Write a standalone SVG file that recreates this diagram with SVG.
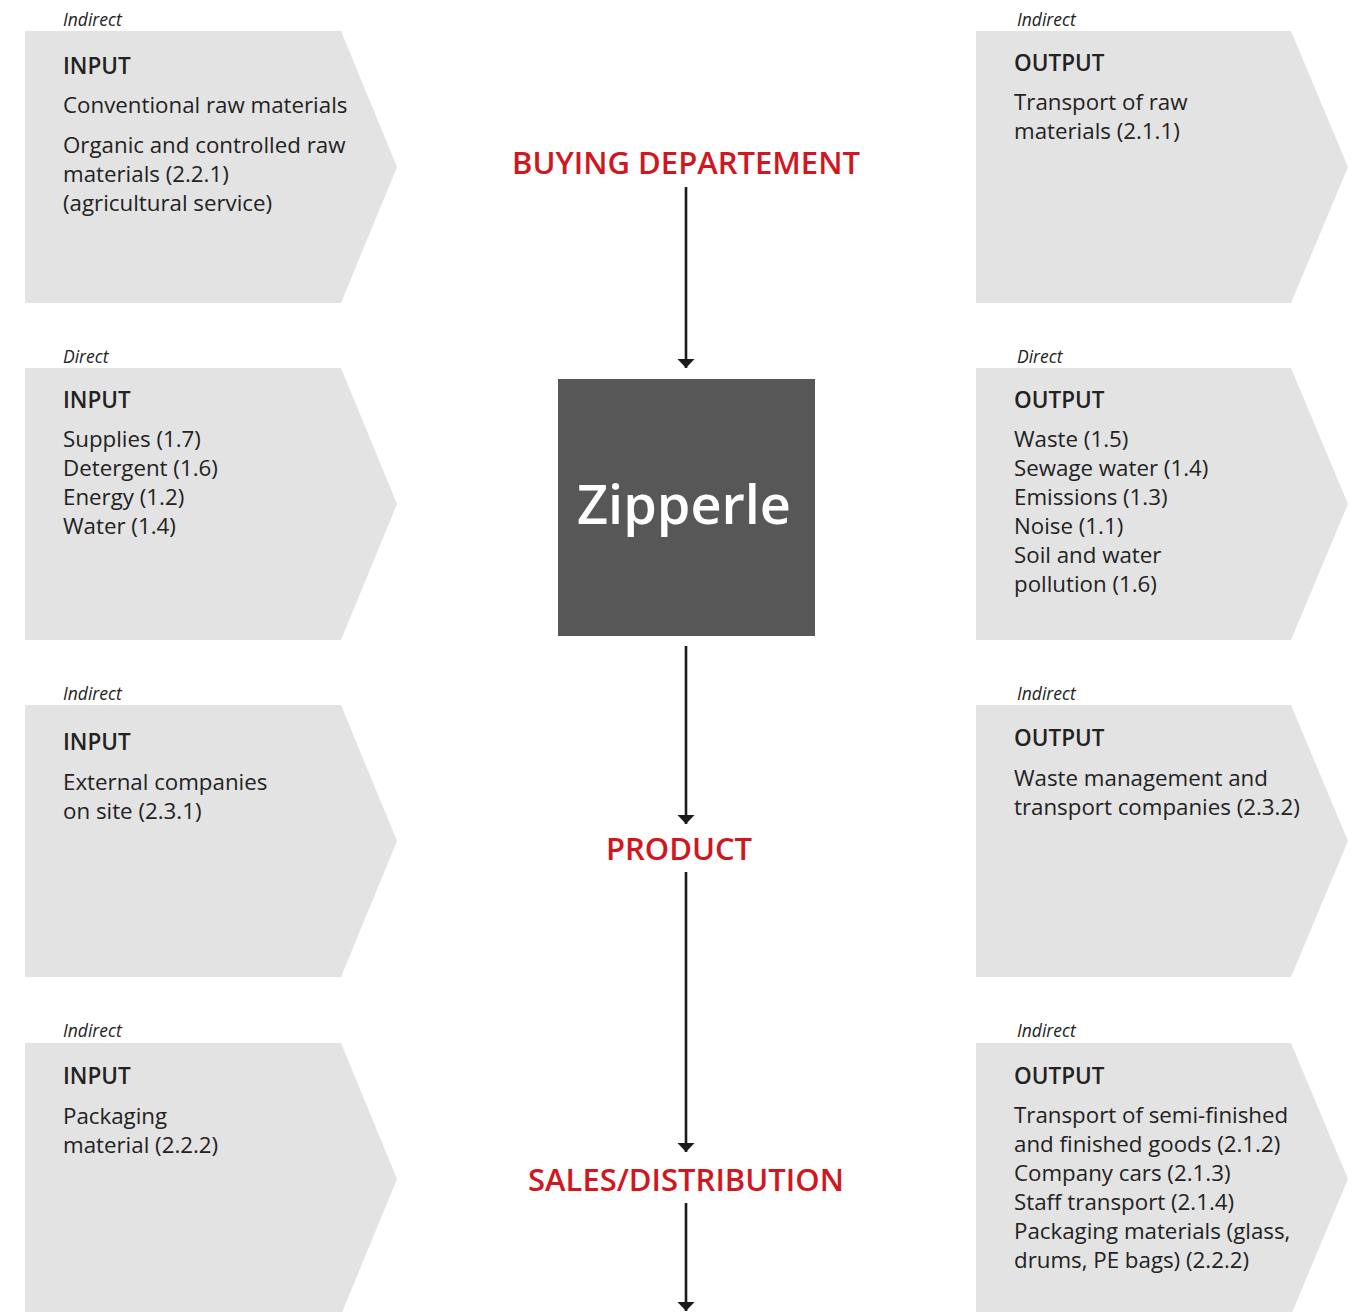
<svg xmlns="http://www.w3.org/2000/svg" width="1363" height="1312" viewBox="0 0 1363 1312">
<style>
.chev{fill:#e3e3e3}
.lbl{font-family:"Open Sans","Noto Sans",sans-serif;font-style:italic;font-size:17.5px;fill:#222}
.hd{font-family:"Open Sans","Noto Sans",sans-serif;font-weight:600;font-size:22.5px;fill:#222}
.tx{font-family:"Open Sans","Noto Sans",sans-serif;font-size:22.3px;fill:#222}
.red{font-family:"Open Sans","Noto Sans",sans-serif;font-weight:600;font-size:31px;fill:#d2161e;text-anchor:middle}
.conn{stroke:#1a1a1a;stroke-width:2.6;fill:none;marker-end:url(#ah)}
</style>
<defs>
<marker id="ah" markerUnits="userSpaceOnUse" markerWidth="10" markerHeight="18" refX="9" refY="8.5" orient="auto" viewBox="0 0 10 17">
<path d="M0,0 L9,8.5 L0,17 Z" fill="#1a1a1a"/>
</marker>
</defs>
<rect width="1363" height="1312" fill="#ffffff"/>

<g id="in1">
<text class="lbl" x="63" y="26">Indirect</text>
<polygon class="chev" points="25,31 341,31 397,167 341,303 25,303"/>
<text class="hd" x="63" y="74">INPUT</text>
<text class="tx" x="63" y="113">Conventional raw materials</text>
<text class="tx" x="63" y="153">Organic and controlled raw</text>
<text class="tx" x="63" y="182">materials (2.2.1)</text>
<text class="tx" x="63" y="211">(agricultural service)</text>
</g>

<g id="out1">
<text class="lbl" x="1017" y="26">Indirect</text>
<polygon class="chev" points="976,31 1291,31 1348,167 1291,303 976,303"/>
<text class="hd" x="1014" y="71">OUTPUT</text>
<text class="tx" x="1014" y="110">Transport of raw</text>
<text class="tx" x="1014" y="139">materials (2.1.1)</text>
</g>

<g id="in2">
<text class="lbl" x="63" y="363">Direct</text>
<polygon class="chev" points="25,368 341,368 397,504 341,640 25,640"/>
<text class="hd" x="63" y="408">INPUT</text>
<text class="tx" x="63" y="447">Supplies (1.7)</text>
<text class="tx" x="63" y="476">Detergent (1.6)</text>
<text class="tx" x="63" y="505">Energy (1.2)</text>
<text class="tx" x="63" y="534">Water (1.4)</text>
</g>

<g id="out2">
<text class="lbl" x="1017" y="363">Direct</text>
<polygon class="chev" points="976,368 1291,368 1348,504 1291,640 976,640"/>
<text class="hd" x="1014" y="408">OUTPUT</text>
<text class="tx" x="1014" y="447">Waste (1.5)</text>
<text class="tx" x="1014" y="476">Sewage water (1.4)</text>
<text class="tx" x="1014" y="505">Emissions (1.3)</text>
<text class="tx" x="1014" y="534">Noise (1.1)</text>
<text class="tx" x="1014" y="563">Soil and water</text>
<text class="tx" x="1014" y="592">pollution (1.6)</text>
</g>

<g id="in3">
<text class="lbl" x="63" y="700">Indirect</text>
<polygon class="chev" points="25,705 341,705 397,841 341,977 25,977"/>
<text class="hd" x="63" y="750">INPUT</text>
<text class="tx" x="63" y="790">External companies</text>
<text class="tx" x="63" y="819">on site (2.3.1)</text>
</g>

<g id="out3">
<text class="lbl" x="1017" y="700">Indirect</text>
<polygon class="chev" points="976,705 1291,705 1348,841 1291,977 976,977"/>
<text class="hd" x="1014" y="746">OUTPUT</text>
<text class="tx" x="1014" y="786">Waste management and</text>
<text class="tx" x="1014" y="815">transport companies (2.3.2)</text>
</g>

<g id="in4">
<text class="lbl" x="63" y="1037">Indirect</text>
<polygon class="chev" points="25,1043 341,1043 397,1179 341,1315 25,1315"/>
<text class="hd" x="63" y="1084">INPUT</text>
<text class="tx" x="63" y="1124">Packaging</text>
<text class="tx" x="63" y="1153">material (2.2.2)</text>
</g>

<g id="out4">
<text class="lbl" x="1017" y="1037">Indirect</text>
<polygon class="chev" points="976,1043 1291,1043 1348,1179 1291,1315 976,1315"/>
<text class="hd" x="1014" y="1084">OUTPUT</text>
<text class="tx" x="1014" y="1123">Transport of semi-finished</text>
<text class="tx" x="1014" y="1152">and finished goods (2.1.2)</text>
<text class="tx" x="1014" y="1181">Company cars (2.1.3)</text>
<text class="tx" x="1014" y="1210">Staff transport (2.1.4)</text>
<text class="tx" x="1014" y="1239">Packaging materials (glass,</text>
<text class="tx" x="1014" y="1268">drums, PE bags) (2.2.2)</text>
</g>

<g id="buying">
<text class="red" x="686" y="174">BUYING DEPARTEMENT</text>
</g>

<g id="zipperle">
<rect x="558" y="379" width="257" height="257" fill="#575757"/>
<text x="684" y="524" text-anchor="middle" font-family="'Open Sans','Noto Sans',sans-serif" font-weight="600" font-size="54" fill="#ffffff">Zipperle</text>
</g>

<g id="product">
<text class="red" x="679" y="860">PRODUCT</text>
</g>

<g id="sales">
<text class="red" x="686" y="1191">SALES/DISTRIBUTION</text>
</g>

<g id="connectors">
<line class="conn" x1="686" y1="187" x2="686" y2="368"/>
<line class="conn" x1="686" y1="646" x2="686" y2="824"/>
<line class="conn" x1="686" y1="872" x2="686" y2="1152"/>
<line class="conn" x1="686" y1="1203" x2="686" y2="1311"/>
</g>
</svg>
